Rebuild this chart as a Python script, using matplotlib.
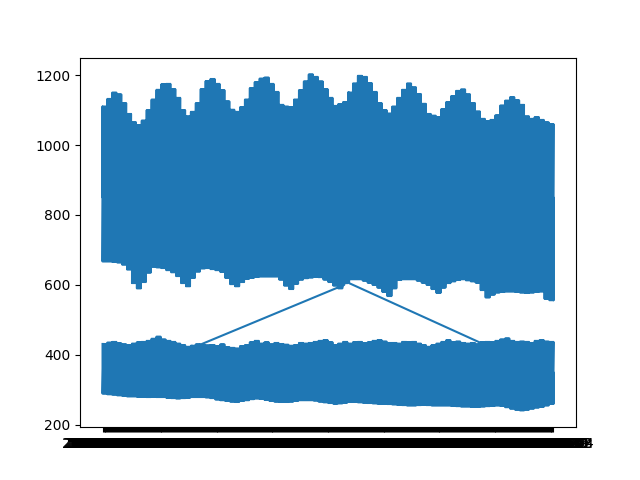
import numpy as np
import matplotlib
matplotlib.use("Agg")
import matplotlib.pyplot as plt

# ---- categories (daily date strings on the x axis) ----
n_days = 460
dates = [str(d) for d in np.arange(np.datetime64("2019-01-01"), np.datetime64("2019-01-01") + n_days)]

# envelope values, one value per block of 5 days
block = 5
upper_high = [1110, 1132, 1150, 1145, 1120, 1089, 1065, 1057, 1070, 1100,
              1130, 1158, 1174, 1175, 1160, 1135, 1100, 1082, 1095, 1120,
              1160, 1183, 1189, 1175, 1157, 1125, 1101, 1095, 1108, 1130,
              1163, 1180, 1190, 1193, 1175, 1152, 1115, 1110, 1108, 1130,
              1157, 1182, 1202, 1195, 1182, 1160, 1135, 1112, 1117, 1123,
              1150, 1176, 1198, 1195, 1177, 1152, 1120, 1100, 1090, 1110,
              1135, 1158, 1176, 1165, 1146, 1118, 1089, 1084, 1080, 1103,
              1123, 1140, 1155, 1159, 1145, 1120, 1096, 1075, 1068, 1072,
              1085, 1113, 1127, 1137, 1128, 1115, 1082, 1075, 1080, 1072,
              1065, 1060]
upper_low = [667, 667, 666, 664, 658, 644, 605, 590, 608, 635,
             652, 650, 648, 642, 636, 625, 605, 596, 620, 638,
             647, 648, 645, 642, 637, 620, 602, 596, 608, 617,
             620, 623, 624, 624, 624, 624, 615, 598, 588, 603,
             615, 619, 621, 623, 622, 615, 608, 598, 590, 605,
             616, 616, 616, 612, 606, 600, 592, 580, 568, 590,
             614, 616, 616, 616, 612, 606, 600, 588, 577, 592,
             605, 610, 614, 616, 613, 610, 606, 585, 564, 572,
             578, 580, 581, 581, 580, 578, 577, 578, 580, 581,
             560, 556]
lower_high = [431, 435, 437, 433, 430, 428, 432, 436, 437, 440,
              446, 452, 444, 440, 437, 432, 428, 423, 426, 430,
              428, 427, 428, 425, 430, 422, 420, 418, 425, 428,
              436, 440, 432, 436, 430, 434, 431, 429, 426, 428,
              434, 432, 434, 437, 440, 442, 436, 428, 432, 437,
              432, 436, 437, 433, 436, 440, 442, 438, 434, 434,
              432, 437, 436, 437, 432, 428, 423, 428, 432, 437,
              442, 436, 438, 434, 432, 434, 430, 436, 437, 436,
              440, 444, 447, 440, 437, 438, 437, 434, 440, 442,
              438, 437]
lower_low = [289, 287, 286, 284, 283, 281, 281, 280, 280, 279,
             280, 279, 279, 277, 276, 275, 276, 277, 279, 279,
             279, 278, 276, 272, 270, 268, 266, 265, 268, 270,
             273, 275, 274, 271, 268, 266, 265, 265, 266, 268,
             270, 270, 270, 269, 266, 264, 262, 260, 261, 263,
             265, 265, 264, 263, 262, 261, 260, 260, 259, 258,
             257, 256, 255, 255, 256, 257, 256, 255, 255, 255,
             255, 254, 253, 252, 252, 251, 251, 252, 253, 254,
             255, 254, 250, 246, 243, 241, 243, 246, 249, 251,
             255, 260]

# points where the line jumps between the two bands (day index, value)
jump1_from = (90, 418)
jump1_to = (246, 600)
jump2_from = (251, 605)
jump2_to = (396, 420)
upper_mid = 850
lower_mid = 350

uh = np.repeat(upper_high, block)
ul = np.repeat(upper_low, block)
lh = np.repeat(lower_high, block)
ll = np.repeat(lower_low, block)

xs, ys = [], []


def add(x, y):
    xs.append(x)
    ys.append(y)


def zig(hi, lo, a, b):
    for k in range(a, b + 1):
        add(k, hi[k])
        add(k, lo[k])


last = n_days - 1
zig(lh, ll, 0, jump1_from[0])
add(*jump1_from)
add(*jump1_to)
zig(uh, ul, jump1_to[0], last)
add(last, upper_mid)
add(0, upper_mid)
zig(uh, ul, 0, jump2_from[0])
add(*jump2_from)
add(*jump2_to)
zig(lh, ll, jump2_to[0], last)
add(last, lower_mid)
add(jump1_from[0] + 1, lower_mid)
zig(lh, ll, jump1_from[0] + 1, jump2_to[0] - 1)

fig, ax = plt.subplots(figsize=(6.4, 4.8), dpi=100)
ax.plot(xs, ys, color="#1f77b4", linewidth=1.5)
ax.set_xticks(range(n_days))
ax.set_xticklabels(dates)
fig.savefig("out.png")
